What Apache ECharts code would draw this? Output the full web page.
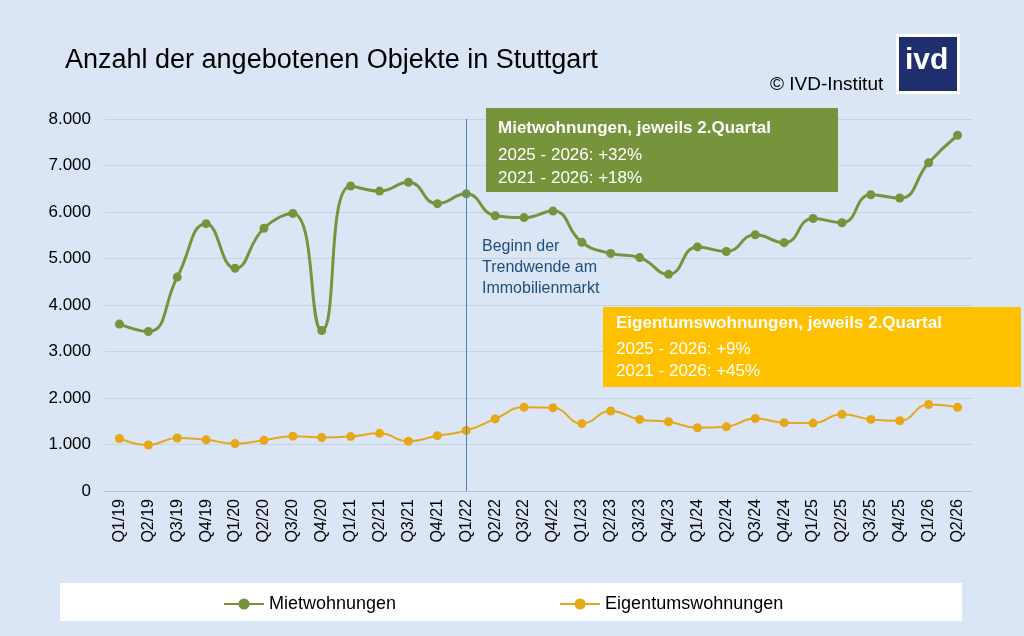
<!DOCTYPE html><html><head><meta charset="utf-8">
<script src="https://cdn.jsdelivr.net/npm/echarts@6/dist/echarts.min.js"></script>
<style>html,body{margin:0;padding:0;background:#DAE6F6}#c{width:1024px;height:636px}</style></head><body><div id="c"></div><script>
const categories=["Q1/19","Q2/19","Q3/19","Q4/19","Q1/20","Q2/20","Q3/20","Q4/20","Q1/21","Q2/21","Q3/21","Q4/21","Q1/22","Q2/22","Q3/22","Q4/22","Q1/23","Q2/23","Q3/23","Q4/23","Q1/24","Q2/24","Q3/24","Q4/24","Q1/25","Q2/25","Q3/25","Q4/25","Q1/26","Q2/26"];
const miet=[3590,3430,4600,5750,4790,5650,5970,3450,6560,6450,6640,6180,6390,5920,5880,6020,5350,5110,5020,4660,5250,5150,5510,5340,5860,5770,6370,6300,7060,7650];
const eigen=[1130,990,1140,1100,1020,1090,1180,1150,1170,1240,1070,1190,1300,1550,1800,1790,1450,1720,1540,1490,1360,1380,1560,1470,1460,1650,1540,1510,1860,1800];
const F='Liberation Sans, Arial, sans-serif';
const c=echarts.init(document.getElementById('c'));
c.setOption({backgroundColor:'#DAE6F6',textStyle:{fontFamily:F},animation:false,
title:{text:'Anzahl der angebotenen Objekte in Stuttgart',left:60,top:42,textStyle:{fontSize:27,fontWeight:'normal',color:'#000',fontFamily:F}},
grid:{left:105,right:52,top:119,bottom:145},
legend:{top:590,left:218,itemGap:163,textStyle:{fontSize:18,color:'#000'},itemWidth:40,data:['Mietwohnungen','Eigentumswohnungen']},
xAxis:{type:'category',data:categories,axisTick:{show:false},axisLine:{lineStyle:{color:'#BFBFBF'}},axisLabel:{rotate:90,fontSize:16,color:'#000',margin:8}},
yAxis:{type:'value',min:0,max:8000,interval:1000,axisLabel:{fontSize:17,color:'#000',margin:14,formatter:v=>v.toString().replace(/\B(?=(\d{3})+(?!\d))/g,'.')},splitLine:{lineStyle:{color:'#C8D3E0'}}},
series:[
{name:'Mietwohnungen',type:'line',smooth:true,data:miet,symbol:'circle',symbolSize:9,lineStyle:{color:'#77933C',width:3},itemStyle:{color:'#77933C'},
 markLine:{silent:true,symbol:'none',label:{show:false},lineStyle:{color:'#4F81BD',type:'solid',width:1},data:[{xAxis:'Q1/22'}]}},
{name:'Eigentumswohnungen',type:'line',smooth:true,data:eigen,symbol:'circle',symbolSize:9,lineStyle:{color:'#E6A817',width:2},itemStyle:{color:'#E6A817'}}
],
graphic:[
{type:'rect',z:0,shape:{x:60,y:583,width:902,height:38},style:{fill:'#fff'}},
{type:'rect',z:100,shape:{x:486,y:108,width:352,height:84},style:{fill:'#77933C'}},
{type:'text',z:101,x:498,y:120,style:{text:'Mietwohnungen, jeweils 2.Quartal',fill:'#fff',font:'bold 17px '+F}},
{type:'text',z:101,x:498,y:144,style:{text:'2025 - 2026: +32%\n2021 - 2026: +18%',fill:'#fff',font:'17px '+F,lineHeight:23}},
{type:'rect',z:100,shape:{x:603,y:307,width:418,height:80},style:{fill:'#FFC000'}},
{type:'text',z:101,x:616,y:315,style:{text:'Eigentumswohnungen, jeweils 2.Quartal',fill:'#fff',font:'bold 17px '+F}},
{type:'text',z:101,x:616,y:338,style:{text:'2025 - 2026: +9%\n2021 - 2026: +45%',fill:'#fff',font:'17px '+F,lineHeight:22}},
{type:'text',z:101,x:482,y:236,style:{text:'Beginn der\nTrendwende am\nImmobilienmarkt',fill:'#1F4E79',font:'16px '+F,lineHeight:21}},
{type:'text',z:101,x:770,y:75,style:{text:'© IVD-Institut',fill:'#000',font:'19px '+F}},
{type:'rect',z:100,shape:{x:896,y:34,width:64,height:60},style:{fill:'#fff'}},
{type:'rect',z:100,shape:{x:899,y:37,width:58,height:54},style:{fill:'#1F2F6E'}},
{type:'text',z:101,x:905,y:46,style:{text:'ivd',fill:'#fff',font:'bold 30px '+F}}
]});
</script></body></html>
